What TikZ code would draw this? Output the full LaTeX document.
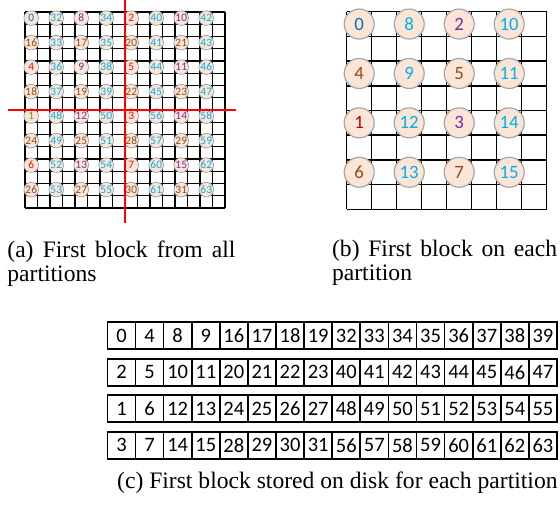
\documentclass[tikz,border=0pt]{standalone}
\usepackage{fontspec}
\setmainfont{Liberation Serif}
\newfontfamily\calib{Carlito}
\definecolor{cblue}{HTML}{0070C0}
\definecolor{clblue}{HTML}{00B0F0}
\definecolor{cpurple}{HTML}{7030A0}
\definecolor{cbrown}{HTML}{8F4A1E}
\definecolor{cred}{HTML}{EE1111}
\definecolor{cdred}{HTML}{C00000}
\definecolor{cgreen}{HTML}{5E9A3A}
\definecolor{cfill}{HTML}{FBE5D6}
\definecolor{cedge}{HTML}{A6A6A6}
\definecolor{lred}{HTML}{FF0000}
\begin{document}
\begin{tikzpicture}[x=0.5pt,y=-0.5pt,
  smallc/.style={circle,fill=cfill,draw=cedge,line width=0.4pt,inner sep=0pt,
    minimum size=7.3pt,font=\calib\fontsize{5.7}{6}\selectfont},
  bigc/.style={circle,fill=cfill,draw=cedge,line width=0.6pt,inner sep=0pt,
    minimum size=15pt,font=\calib\fontsize{9.4}{10}\selectfont},
  gridA/.style={black,line width=0.6pt},
  gridB/.style={black,line width=0.75pt},
  redline/.style={lred,line width=0.75pt},
  cellbox/.style={draw,line width=0.85pt,inner sep=0pt,minimum width=14.05pt,
    minimum height=13.5pt,font=\calib\fontsize{10.25}{12}\selectfont},
  captxt/.style={inner sep=0pt,font=\fontsize{11.8}{12.2}\selectfont}
]
\useasboundingbox (0,0) rectangle (560,505);

% ---------- (a) grid ----------
\foreach \i in {0,...,16}{
  \draw[gridA] ({25+12.5*\i},12) -- ({25+12.5*\i},208);
  \draw[gridA] (25,{12+12.25*\i}) -- (225,{12+12.25*\i});
}
\foreach \row [count=\r from 0] in {
  {0/cblue,32/clblue,8/cpurple,34/clblue,2/cred,40/clblue,10/cpurple,42/clblue},
  {16/cbrown,33/clblue,17/cbrown,35/clblue,20/cbrown,41/clblue,21/cbrown,43/clblue},
  {4/cred,36/clblue,9/cpurple,38/clblue,5/cred,44/clblue,11/cpurple,46/clblue},
  {18/cbrown,37/clblue,19/cbrown,39/clblue,22/cbrown,45/clblue,23/cbrown,47/clblue},
  {1/cgreen,48/clblue,12/cpurple,50/clblue,3/cred,56/clblue,14/cpurple,58/clblue},
  {24/cbrown,49/clblue,25/cbrown,51/clblue,28/cbrown,57/clblue,29/cbrown,59/clblue},
  {6/cred,52/clblue,13/cpurple,54/clblue,7/cred,60/clblue,15/cpurple,62/clblue},
  {26/cbrown,53/clblue,27/cbrown,55/clblue,30/cbrown,61/clblue,31/cbrown,63/clblue}}{
  \foreach \v/\c [count=\cc from 0] in \row {
    \node[smallc,text=\c] (a\v) at ({31.25+25*\cc},{18.125+24.5*\r}) {\v};
  }
}
\coordinate (rv1) at (125,0);
\coordinate (rv2) at (125,223);
\coordinate (rh1) at (8,110);
\coordinate (rh2) at (236,110);
\draw[redline] (rv1) -- (rv2);
\draw[redline] (rh1) -- (rh2);

% ---------- (b) grid ----------
\foreach \i in {0,...,8}{
  \draw[gridB] ({346.7+25*\i},11.7) -- ({346.7+25*\i},209.3);
  \draw[gridB] (346.7,{11.7+24.7*\i}) -- (546.7,{11.7+24.7*\i});
}
\foreach \row [count=\r from 0] in {
  {0/cblue,8/clblue,2/cpurple,10/clblue},
  {4/cbrown,9/clblue,5/cbrown,11/clblue},
  {1/cdred,12/clblue,3/cpurple,14/clblue},
  {6/cbrown,13/clblue,7/cbrown,15/clblue}}{
  \foreach \v/\c [count=\cc from 0] in \row {
    \node[bigc,text=\c] (b\v) at ({359.2+50*\cc},{24.05+49.4*\r}) {\v};
  }
}

% ---------- captions (a), (b) ----------
\node[captxt,anchor=base west,text width=114pt,align=justify] (capa) at (7,257)
  {(a) First block from all partitions};
\node[captxt,anchor=base west,text width=112.5pt,align=justify] (capb) at (331.7,256)
  {(b) First block on each partition};

% ---------- (c) table ----------
\foreach \row [count=\r from 0] in {
  {0,4,8,9,16,17,18,19,32,33,34,35,36,37,38,39},
  {2,5,10,11,20,21,22,23,40,41,42,43,44,45,46,47},
  {1,6,12,13,24,25,26,27,48,49,50,51,52,53,54,55},
  {3,7,14,15,28,29,30,31,56,57,58,59,60,61,62,63}}{
  \foreach \v [count=\cc from 0] in \row {
    \node[cellbox] (t\v) at ({107.4+28.1*\cc+14.05},{322.3+36.5*\r+13.5}) {\v};
  }
}
\node[captxt,anchor=base east] (capc) at (558,488)
  {(c) First block stored on disk for each partition};
\end{tikzpicture}
\end{document}
